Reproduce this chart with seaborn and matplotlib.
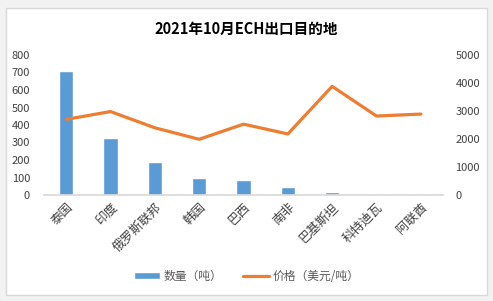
import numpy as np
import pandas as pd
import seaborn as sns
import matplotlib
matplotlib.use("Agg")
import matplotlib.pyplot as plt
from matplotlib.patches import Rectangle, Patch
from matplotlib.lines import Line2D

# data
countries = ["泰国", "印度", "俄罗斯联邦", "韩国", "巴西", "南非", "巴基斯坦", "科特迪瓦", "阿联酋"]
volume = [710, 326, 190, 97, 86, 46, 17, 7, 6]          # 数量（吨）
price = [2700, 2980, 2400, 1990, 2530, 2180, 3880, 2820, 2890]  # 价格（美元/吨）
title = "2021年10月ECH出口目的地"
left_ticks = [0, 100, 200, 300, 400, 500, 600, 700, 800]
right_ticks = [0, 1000, 2000, 3000, 4000, 5000]

df = pd.DataFrame({"country": countries, "volume": volume, "price": price})

sns.set_theme()
sns.set_style("white")
plt.rcParams['font.family'] = ['Noto Sans CJK SC', 'DejaVu Sans']

blue = "#5b9bd5"
orange = "#ed7d31"
W, H = 493, 301

fig = plt.figure(figsize=(W / 100, H / 100), dpi=100)
fig.patch.set_facecolor("#f2f2f2")
fig.patches.append(Rectangle((6 / W, 1 - 295 / H), 481 / W, 287 / H,
                             transform=fig.transFigure, facecolor="white",
                             edgecolor="#d9d9d9", linewidth=1, zorder=-5))

ax = fig.add_axes([44 / W, 1 - 195 / H, 399 / W, 140 / H])
ax.set_facecolor("none")
sns.barplot(data=df, x="country", y="volume", color=blue, width=0.32,
            saturation=1, ax=ax)
ax.set_ylim(0, 800)
ax.set_yticks(left_ticks)
ax.set_xlim(-0.5, len(countries) - 0.5)

ax2 = ax.twinx()
sns.lineplot(x=np.arange(len(countries)), y=price, color=orange, linewidth=2.3, ax=ax2)
ax2.set_ylim(0, 5000)
ax2.set_yticks(right_ticks)

for a in (ax, ax2):
    for s in a.spines.values():
        s.set_visible(False)
    a.set_xlabel("")
    a.set_ylabel("")
    a.tick_params(length=0, labelsize=8, labelcolor="#404040", pad=4)
ax.spines["bottom"].set_visible(True)
ax.spines["bottom"].set_color("#d9d9d9")
ax.tick_params(axis="y", pad=10)
ax2.tick_params(axis="y", pad=9)
ax.set_xticks(range(len(countries)))
ax.set_xticklabels(countries, rotation=45, ha="right", rotation_mode="anchor",
                   fontsize=9, color="#404040")

fig.text(0.5, 1 - 29 / H, title, ha="center", va="center", fontsize=10.5,
         fontweight="bold", color="black")

handles = [Patch(facecolor=blue),
           Line2D([0], [0], color=orange, linewidth=2.3)]
fig.legend(handles, ["数量（吨）", "价格（美元/吨）"], loc="center",
           bbox_to_anchor=(0.5, 1 - 276 / H), ncol=2, frameon=False,
           fontsize=8.5, labelcolor="#595959", handlelength=2.2,
           handleheight=0.6, columnspacing=1.8, handletextpad=0.3)

fig.savefig("out.png", dpi=100, facecolor=fig.get_facecolor())
